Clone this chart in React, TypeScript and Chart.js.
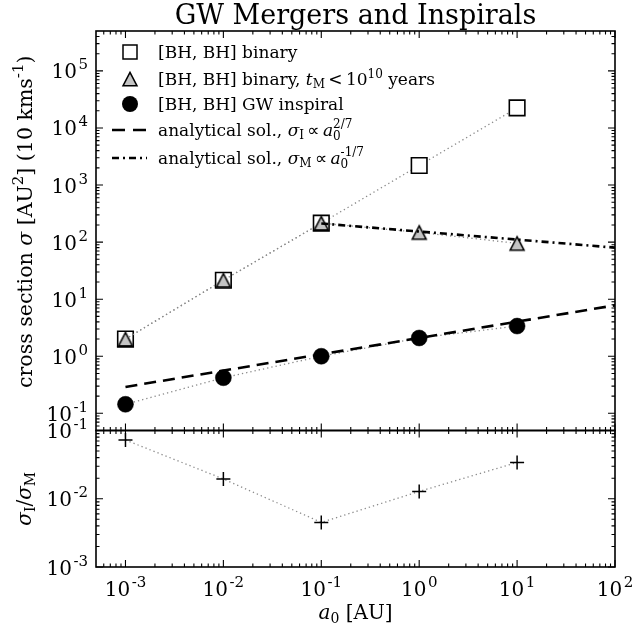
import React, { useEffect, useRef } from 'react';
import { Chart, registerables } from 'chart.js';

Chart.register(...registerables);

// ---- data ----
const semiMajorAxis = [1e-3, 1e-2, 1e-1, 1, 10];
const binaryAll = [2.0, 21.5, 215, 2200, 22500];
const binaryMerging = [2.0, 21.5, 215, 148, 95];
const gwInspiral = [0.144, 0.42, 1.0, 2.09, 3.38];
const sigmaRatio = [0.0726, 0.0195, 0.0045, 0.0128, 0.034];
const inspiralFitX = [1e-3, 100];
const inspiralFitY = [0.29, 7.8];
const mergerFitX = [0.1, 100];
const mergerFitY = [212, 80];
const xTickExponents = [-3, -2, -1, 0, 1, 2];
const yTopTickExponents = [-1, 0, 1, 2, 3, 4, 5];
const yLowTickExponents = [-3, -2, -1];
const X_MIN = 5e-4, X_MAX = 100;
const YT_MIN = 0.05, YT_MAX = 5e5;
const YL_MIN = 1e-3, YL_MAX = 0.1;

const SERIF = '"DejaVu Serif", serif';
const SANS = '"DejaVu Sans", sans-serif';
const GREY = '#8a8a8a';
const TRI_FILL = '#c4c4c4';

type Seg = { t: string; size: number; italic?: boolean; dy?: number; keep?: boolean; family?: string };

function segFont(s: Seg) {
  return `${s.italic ? 'italic ' : ''}${s.size}px ${s.family || SERIF}`;
}
function richWidth(ctx: CanvasRenderingContext2D, segs: Seg[]) {
  let w = 0, held = 0;
  for (const s of segs) {
    ctx.font = segFont(s);
    const m = ctx.measureText(s.t).width;
    if (s.keep) held = Math.max(held, m);
    else { w += Math.max(held, m); held = 0; }
  }
  return w + held;
}
function drawRich(ctx: CanvasRenderingContext2D, segs: Seg[], x: number, y: number, align: 'left' | 'center' | 'right') {
  const w = richWidth(ctx, segs);
  let cx = align === 'left' ? x : align === 'right' ? x - w : x - w / 2;
  let held = 0;
  ctx.textAlign = 'left';
  ctx.textBaseline = 'alphabetic';
  ctx.fillStyle = '#000';
  for (const s of segs) {
    ctx.font = segFont(s);
    ctx.fillText(s.t, cx, y + (s.dy || 0));
    const m = ctx.measureText(s.t).width;
    if (s.keep) held = Math.max(held, m);
    else { cx += Math.max(held, m); held = 0; }
  }
}
function powLabel(e: number): Seg[] {
  return [
    { t: '10', size: 20 },
    { t: '\u200a' + String(e), size: 15, dy: -9 },
  ];
}

function makeTriangle(): HTMLCanvasElement {
  const c = document.createElement('canvas');
  c.width = 18; c.height = 18;
  const g = c.getContext('2d')!;
  g.beginPath();
  g.moveTo(9, 2.3);
  g.lineTo(16, 15.8);
  g.lineTo(2, 15.8);
  g.closePath();
  g.fillStyle = TRI_FILL;
  g.fill();
  g.lineWidth = 1.5;
  g.strokeStyle = '#000';
  g.stroke();
  return c;
}

function logTicks(min: number, max: number) {
  const majors: number[] = [];
  const minors: number[] = [];
  for (let e = Math.floor(Math.log10(min)) - 1; e <= Math.ceil(Math.log10(max)); e++) {
    const p = Math.pow(10, e);
    if (p >= min * 0.9999 && p <= max * 1.0001) majors.push(p);
    for (let k = 2; k <= 9; k++) {
      const v = k * p;
      if (v > min && v < max) minors.push(v);
    }
  }
  return { majors, minors };
}

const pts = (xs: number[], ys: number[]) => xs.map((x, i) => ({ x, y: ys[i] }));

const decorPlugin = {
  id: 'decor',
  afterDraw(chart: any) {
    const ctx: CanvasRenderingContext2D = chart.ctx;
    const xs = chart.scales.x;
    const yt = chart.scales.ytop;
    const yl = chart.scales.ylow;
    const L = xs.getPixelForValue(X_MIN);
    const R = xs.getPixelForValue(X_MAX);
    const MAJ = 7, MIN = 3.5;
    const xt = logTicks(X_MIN, X_MAX);

    const panels = [
      { s: yt, min: YT_MIN, max: YT_MAX },
      { s: yl, min: YL_MIN, max: YL_MAX },
    ];
    ctx.save();
    ctx.strokeStyle = '#000';
    for (const p of panels) {
      const T = p.s.getPixelForValue(p.max);
      const B = p.s.getPixelForValue(p.min);
      const yt2 = logTicks(p.min, p.max);
      ctx.lineWidth = 1.1;
      ctx.beginPath();
      const xTick = (v: number, len: number) => {
        const px = xs.getPixelForValue(v);
        ctx.moveTo(px, T); ctx.lineTo(px, T + len);
        ctx.moveTo(px, B); ctx.lineTo(px, B - len);
      };
      const yTick = (v: number, len: number) => {
        const py = p.s.getPixelForValue(v);
        ctx.moveTo(L, py); ctx.lineTo(L + len, py);
        ctx.moveTo(R, py); ctx.lineTo(R - len, py);
      };
      xt.majors.forEach((v) => xTick(v, MAJ));
      xt.minors.forEach((v) => xTick(v, MIN));
      yt2.majors.forEach((v) => yTick(v, MAJ));
      yt2.minors.forEach((v) => yTick(v, MIN));
      ctx.stroke();
      ctx.lineWidth = 1.6;
      ctx.strokeRect(L, T, R - L, B - T);
    }
    ctx.restore();

    // tick labels
    const bottom = yl.getPixelForValue(YL_MIN);
    xTickExponents.forEach((e) => {
      drawRich(ctx, powLabel(e), xs.getPixelForValue(Math.pow(10, e)), bottom + 28.5, 'center');
    });
    yTopTickExponents.forEach((e) => {
      drawRich(ctx, powLabel(e), L - 8, yt.getPixelForValue(Math.pow(10, e)) + 7.5, 'right');
    });
    yLowTickExponents.forEach((e) => {
      drawRich(ctx, powLabel(e), L - 8, yl.getPixelForValue(Math.pow(10, e)) + 7.5, 'right');
    });

    // title
    drawRich(ctx, [{ t: 'GW Mergers and Inspirals', size: 27 }], (L + R) / 2, 24, 'center');

    // x label
    drawRich(ctx, [
      { t: 'a', size: 20, italic: true },
      { t: '0', size: 14, dy: 4 },
      { t: ' [AU]', size: 20 },
    ], (L + R) / 2, 619, 'center');

    // y labels
    const topMid = (yt.getPixelForValue(YT_MAX) + yt.getPixelForValue(YT_MIN)) / 2 - 9;
    ctx.save();
    ctx.translate(32, topMid);
    ctx.rotate(-Math.PI / 2);
    drawRich(ctx, [
      { t: 'cross section ', size: 20.5 },
      { t: 'σ', size: 20.5, italic: true },
      { t: ' [AU', size: 20.5 },
      { t: '2', size: 15, dy: -9 },
      { t: '] (10 kms', size: 20.5 },
      { t: '-1', size: 15, dy: -9 },
      { t: ')', size: 20.5 },
    ], 0, 0, 'center');
    ctx.restore();

    const lowMid = (yl.getPixelForValue(YL_MAX) + yl.getPixelForValue(YL_MIN)) / 2;
    ctx.save();
    ctx.translate(31, lowMid);
    ctx.rotate(-Math.PI / 2);
    drawRich(ctx, [
      { t: 'σ', size: 20, italic: true },
      { t: 'I', size: 14, dy: 4 },
      { t: '/', size: 20 },
      { t: 'σ', size: 20, italic: true },
      { t: 'M', size: 14, dy: 4 },
    ], 0, 0, 'center');
    ctx.restore();

    // legend
    const mx = 130, tx = 158;
    const rows = [52, 79, 104, 130, 158];
    ctx.save();
    ctx.lineWidth = 1.5;
    ctx.strokeStyle = '#000';
    ctx.fillStyle = '#fff';
    ctx.fillRect(mx - 7, rows[0] - 7, 14, 14);
    ctx.strokeRect(mx - 7, rows[0] - 7, 14, 14);
    const tri = (chart as any)._triImg as HTMLCanvasElement;
    if (tri) ctx.drawImage(tri, mx - 9, rows[1] - 9);
    ctx.fillStyle = '#000';
    ctx.beginPath();
    ctx.arc(mx, rows[2], 8, 0, Math.PI * 2);
    ctx.fill();
    ctx.lineWidth = 2.6;
    ctx.setLineDash([13, 8]);
    ctx.beginPath();
    ctx.moveTo(112, rows[3]); ctx.lineTo(147, rows[3]);
    ctx.stroke();
    ctx.setLineDash([7, 4, 2, 4]);
    ctx.beginPath();
    ctx.moveTo(112, rows[4]); ctx.lineTo(147, rows[4]);
    ctx.stroke();
    ctx.restore();

    const F = 17, f = 12;
    drawRich(ctx, [{ t: '[BH, BH] binary', size: F }], tx, rows[0] + 6, 'left');
    drawRich(ctx, [
      { t: '[BH, BH] binary, ', size: F },
      { t: 't', size: F, italic: true },
      { t: 'M', size: f, dy: 3 },
      { t: '\u2009<\u2009', size: F, family: SANS },
      { t: '10', size: F },
      { t: '10', size: f, dy: -7 },
      { t: ' years', size: F },
    ], tx, rows[1] + 6, 'left');
    drawRich(ctx, [{ t: '[BH, BH] GW inspiral', size: F }], tx, rows[2] + 6, 'left');
    drawRich(ctx, [
      { t: 'analytical sol., ', size: F },
      { t: 'σ', size: F, italic: true },
      { t: 'I', size: f, dy: 3 },
      { t: '\u2009∝\u2009', size: F, family: SANS },
      { t: 'a', size: F, italic: true },
      { t: '0', size: f, dy: 4, keep: true },
      { t: '2/7', size: f, dy: -8 },
    ], tx, rows[3] + 6, 'left');
    drawRich(ctx, [
      { t: 'analytical sol., ', size: F },
      { t: 'σ', size: F, italic: true },
      { t: 'M', size: f, dy: 3 },
      { t: '\u2009∝\u2009', size: F, family: SANS },
      { t: 'a', size: F, italic: true },
      { t: '0', size: f, dy: 4, keep: true },
      { t: '-1/7', size: f, dy: -8 },
    ], tx, rows[4] + 6, 'left');
  },
};

export default function App() {
  const ref = useRef<HTMLCanvasElement | null>(null);
  useEffect(() => {
    if (!ref.current) return;
    const triImg = makeTriangle();
    const dotted = { borderColor: GREY, borderWidth: 1.3, borderDash: [1.3, 3], borderCapStyle: 'butt' as const };
    const chart = new Chart(ref.current, {
      type: 'scatter',
      data: {
        datasets: [
          {
            label: 'analytical sigma_I',
            data: pts(inspiralFitX, inspiralFitY),
            yAxisID: 'ytop', showLine: true, borderColor: '#000', borderWidth: 2.6,
            borderDash: [12, 7], pointRadius: 0, order: 0,
          },
          {
            label: 'analytical sigma_M',
            data: pts(mergerFitX, mergerFitY),
            yAxisID: 'ytop', showLine: true, borderColor: '#000', borderWidth: 2.6,
            borderDash: [7, 4, 2, 4], pointRadius: 0, order: 1,
          },
          {
            label: '[BH, BH] GW inspiral',
            data: pts(semiMajorAxis, gwInspiral),
            yAxisID: 'ytop', showLine: true, ...dotted,
            pointStyle: 'circle', pointRadius: 8, pointBackgroundColor: '#000',
            pointBorderColor: '#000', pointBorderWidth: 0.5, order: 2,
          },
          {
            label: '[BH, BH] binary, t_M < 1e10 years',
            data: pts(semiMajorAxis, binaryMerging),
            yAxisID: 'ytop', showLine: true, ...dotted,
            pointStyle: triImg as any, pointRadius: 9, order: 3,
          },
          {
            label: '[BH, BH] binary',
            data: pts(semiMajorAxis, binaryAll),
            yAxisID: 'ytop', showLine: true, ...dotted,
            pointStyle: 'rect', pointRadius: 11, pointBackgroundColor: '#fff',
            pointBorderColor: '#000', pointBorderWidth: 1.6, order: 4,
          },
          {
            label: 'sigma_I / sigma_M',
            data: pts(semiMajorAxis, sigmaRatio),
            yAxisID: 'ylow', showLine: true, ...dotted,
            pointStyle: 'cross', pointRadius: 7, pointBorderColor: '#000',
            pointBorderWidth: 1.5, order: 2,
          },
        ],
      },
      options: {
        responsive: false,
        animation: false,
        events: [],
        layout: { padding: { left: 96, right: 20, top: 31, bottom: 65 } },
        plugins: {
          legend: { display: false },
          title: { display: false },
          tooltip: { enabled: false },
        },
        scales: {
          x: {
            type: 'logarithmic', min: X_MIN, max: X_MAX, position: 'bottom',
            ticks: { display: false }, grid: { display: false, drawTicks: false }, border: { display: false },
          },
          ylow: {
            type: 'logarithmic', min: YL_MIN, max: YL_MAX, position: 'left',
            stack: 'panels', stackWeight: 136.5,
            ticks: { display: false }, grid: { display: false, drawTicks: false }, border: { display: false },
          },
          ytop: {
            type: 'logarithmic', min: YT_MIN, max: YT_MAX, position: 'left',
            stack: 'panels', stackWeight: 399.5,
            ticks: { display: false }, grid: { display: false, drawTicks: false }, border: { display: false },
          },
        } as any,
      },
      plugins: [decorPlugin as any],
    });
    (chart as any)._triImg = triImg;
    chart.draw();
    return () => chart.destroy();
  }, []);
  return (
    <div style={{ position: 'absolute', left: 0, top: 0, width: 635, height: 632, background: '#fff' }}>
      <canvas ref={ref} width={635} height={632} style={{ display: 'block' }} />
    </div>
  );
}
